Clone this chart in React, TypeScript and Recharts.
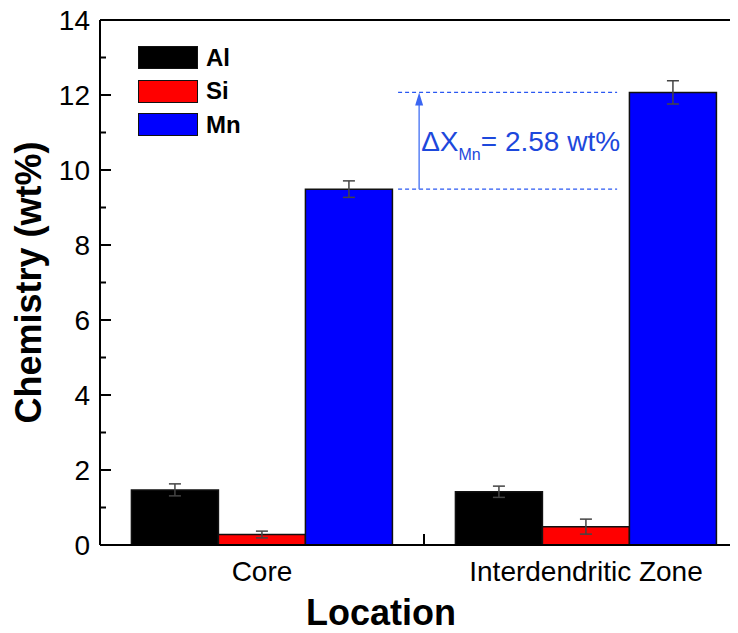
import React from 'react';
import {
  BarChart,
  Bar,
  XAxis,
  YAxis,
  ErrorBar,
  ReferenceLine,
} from 'recharts';

// Mean composition per location (wt%) with standard deviations
const locations = ['Core', 'Interdendritic Zone'];
const alValues = [1.47, 1.42];
const alErrors = [0.16, 0.15];
const siValues = [0.28, 0.49];
const siErrors = [0.09, 0.2];
const mnValues = [9.49, 12.07];
const mnErrors = [0.22, 0.31];
const yTicks = [0, 1, 2, 3, 4, 5, 6, 7, 8, 9, 10, 11, 12, 13, 14];

const seriesInfo = [
  { key: 'Al', color: '#000000' },
  { key: 'Si', color: '#ff0000' },
  { key: 'Mn', color: '#0000ff' },
];

// "pos" places each location on a continuous 0..2 frame axis (band centres)
const data = locations.map((loc, i) => ({
  location: loc,
  pos: i + 0.5,
  Al: alValues[i],
  AlErr: alErrors[i],
  Si: siValues[i],
  SiErr: siErrors[i],
  Mn: mnValues[i],
  MnErr: mnErrors[i],
}));

const mnDelta = mnValues[1] - mnValues[0];

const FONT = '"Liberation Sans", Arial, Helvetica, sans-serif';
const ANNOT_LINE = '#2a58f2';
const ANNOT_TEXT = '#1d48dc';

const YTick = (props: any) => {
  const { x, y, payload } = props;
  const v = payload.value as number;
  const major = v % 2 === 0;
  return (
    <g>
      <line x1={x} x2={x + (major ? 11 : 6)} y1={y} y2={y} stroke="#000" strokeWidth={2} />
      {major && (
        <text x={x - 10} y={y} dy="0.36em" textAnchor="end" fontSize={28} fontFamily={FONT} fill="#000">
          {v}
        </text>
      )}
    </g>
  );
};

const XTick = (props: any) => {
  const { x, y, payload } = props;
  return (
    <text x={x} y={y + 36} textAnchor="middle" fontSize={28} fontFamily={FONT} fill="#000">
      {payload.value}
    </text>
  );
};

const LegendBox = () => (
  <div style={{ position: 'absolute', left: 130, top: 33, fontFamily: FONT }}>
    {seriesInfo.map((s) => (
      <div key={s.key} style={{ display: 'flex', alignItems: 'center', height: 33.5 }}>
        <div
          style={{
            width: 58,
            height: 21,
            background: s.color,
            border: '1.5px solid #111',
          }}
        />
        <span style={{ marginLeft: 8, fontSize: 24, fontWeight: 'bold', color: '#000', lineHeight: '24px' }}>
          {s.key}
        </span>
      </div>
    ))}
  </div>
);

const BoundaryTick = (props: any) => {
  const bottom = Math.max(props.y1, props.y2);
  return <line x1={props.x1} x2={props.x1} y1={bottom} y2={bottom - 11} stroke="#000" strokeWidth={2} />;
};

const DeltaArrow = (props: any) => {
  const x = props.x1;
  const top = Math.min(props.y1, props.y2);
  const bottom = Math.max(props.y1, props.y2);
  const mid = (top + bottom) / 2;
  return (
    <g>
      <line x1={x} x2={x} y1={bottom} y2={top + 10} stroke="#5a82f5" strokeWidth={1.5} />
      <polygon points={`${x},${top} ${x - 4},${top + 13} ${x + 4},${top + 13}`} fill="#3b66f2" />
      <text x={x + 2} y={mid + 10} fontFamily={FONT} fill={ANNOT_TEXT}>
        <tspan fontSize={28}>ΔX</tspan>
        <tspan fontSize={16} dy={9}>Mn</tspan>
        <tspan fontSize={28} dy={-9}>{`= ${mnDelta.toFixed(2)} wt%`}</tspan>
      </text>
    </g>
  );
};

export default function App() {
  return (
    <div style={{ position: 'relative', width: 730, height: 625, overflow: 'hidden' }}>
      <BarChart
        width={760}
        height={625}
        data={data}
        margin={{ top: 12, right: 20, bottom: 0, left: 0 }}
        barCategoryGap="9.7%"
        barGap={0}
      >
        <XAxis
          xAxisId="cat"
          dataKey="location"
          height={88}
          axisLine={{ stroke: '#000', strokeWidth: 2 }}
          tickLine={false}
          tickSize={0}
          tickMargin={0}
          tick={<XTick />}
          label={{
            content: (p: any) => (
              <text
                x={p.viewBox.x + p.viewBox.width / 2 - 43}
                y={p.viewBox.y + p.viewBox.height - 8}
                textAnchor="middle"
                fontSize={36}
                fontWeight="bold"
                fontFamily={FONT}
                fill="#000"
              >
                Location
              </text>
            ),
          }}
        />
        <XAxis xAxisId="frame" dataKey="pos" type="number" domain={[0, 2]} allowDataOverflow hide />
        <YAxis
          width={92}
          domain={[0, 14]}
          ticks={yTicks}
          interval={0}
          allowDataOverflow
          axisLine={{ stroke: '#000', strokeWidth: 2 }}
          tickLine={false}
          tickSize={0}
          tickMargin={0}
          tick={<YTick />}
          label={{
            content: (p: any) => {
              const cx = 20;
              const cy = p.viewBox.y + p.viewBox.height / 2;
              return (
                <text
                  x={cx}
                  y={cy}
                  transform={`rotate(-90, ${cx}, ${cy})`}
                  textAnchor="middle"
                  dy="0.35em"
                  fontSize={36}
                  fontWeight="bold"
                  fontFamily={FONT}
                  fill="#000"
                >
                  Chemistry (wt%)
                </text>
              );
            },
          }}
        />
        <ReferenceLine y={14} xAxisId="frame" stroke="#000" strokeWidth={2} />
        <ReferenceLine x={2} xAxisId="frame" stroke="#000" strokeWidth={2} />
        <ReferenceLine x={1} xAxisId="frame" shape={<BoundaryTick />} />
        <ReferenceLine
          xAxisId="frame"
          segment={[{ x: 0.92, y: mnValues[1] }, { x: 1.596, y: mnValues[1] }]}
          stroke={ANNOT_LINE}
          strokeWidth={1.2}
          strokeDasharray="4 3"
        />
        <ReferenceLine
          xAxisId="frame"
          segment={[{ x: 0.92, y: mnValues[0] }, { x: 1.596, y: mnValues[0] }]}
          stroke={ANNOT_LINE}
          strokeWidth={1.2}
          strokeDasharray="4 3"
        />
        <ReferenceLine
          xAxisId="frame"
          segment={[{ x: 0.985, y: mnValues[0] }, { x: 0.985, y: mnValues[1] }]}
          shape={<DeltaArrow />}
        />
        {seriesInfo.map((s) => (
          <Bar
            key={s.key}
            xAxisId="cat"
            dataKey={s.key}
            fill={s.color}
            stroke="#111"
            strokeWidth={1.5}
            isAnimationActive={false}
          >
            <ErrorBar dataKey={`${s.key}Err`} width={6} stroke="#444" strokeWidth={1.5} />
          </Bar>
        ))}
      </BarChart>
      <LegendBox />
    </div>
  );
}
